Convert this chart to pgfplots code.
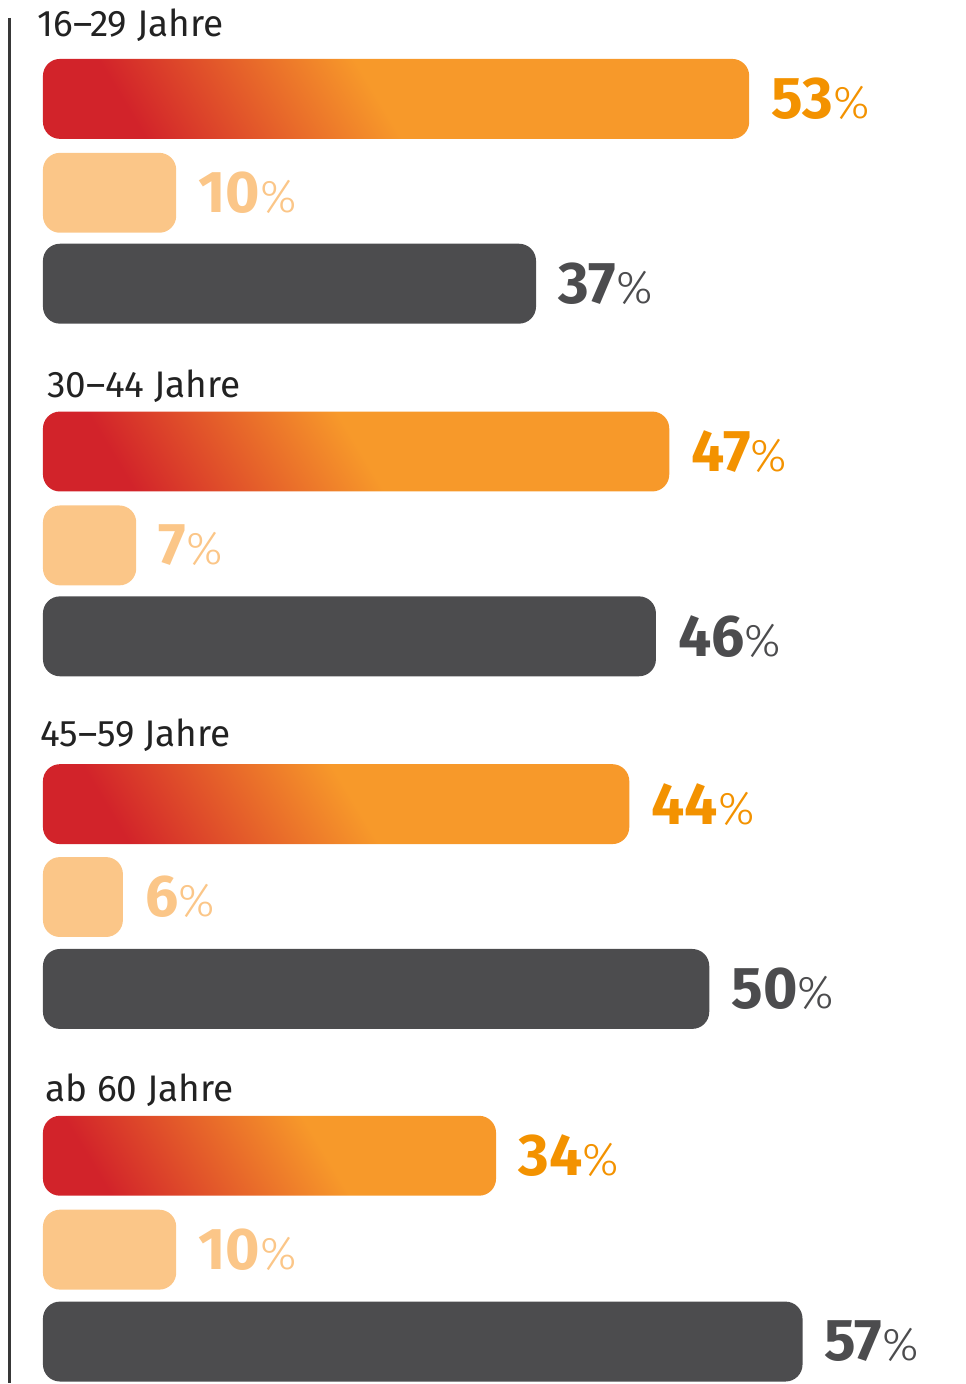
\documentclass[border=0pt]{standalone}
\usepackage{fontspec}
\setmainfont{Fira Sans}
\newfontfamily\lightfont{Fira Sans Light}
\usepackage{pgfplots}
\pgfplotsset{compat=1.18}
\definecolor{myred}{HTML}{D2232A}
\definecolor{myorange}{HTML}{F7992A}
\definecolor{numorange}{HTML}{F39200}
\definecolor{lightbar}{HTML}{FBC688}
\definecolor{darkbar}{HTML}{4C4C4E}
\definecolor{titlecol}{HTML}{222222}
\pgfdeclarehorizontalshading{gA}{100bp}{color(0bp)=(myred); color(25bp)=(myred); color(48.4bp)=(myorange); color(100bp)=(myorange)}
\pgfdeclarehorizontalshading{gB}{100bp}{color(0bp)=(myred); color(25bp)=(myred); color(50.5bp)=(myorange); color(100bp)=(myorange)}
\pgfdeclarehorizontalshading{gC}{100bp}{color(0bp)=(myred); color(25bp)=(myred); color(52.1bp)=(myorange); color(100bp)=(myorange)}
\pgfdeclarehorizontalshading{gD}{100bp}{color(0bp)=(myred); color(25bp)=(myred); color(57.8bp)=(myorange); color(100bp)=(myorange)}
\newcommand{\lab}[1]{{\fontsize{29.5}{30}\selectfont\bfseries #1}{\fontsize{23}{24}\selectfont\lightfont\%}}
\begin{document}
\begin{tikzpicture}
\begin{axis}[
  scale only axis, width=483.5pt, height=692pt,
  hide axis, clip=false,
  xmin=-3.2234, xmax=69.265, ymin=0, ymax=1384, y dir=reverse,
  xbar, bar width=40pt, bar shift=0pt,
  point meta=explicit symbolic,
  nodes near coords={\lab{\pgfplotspointmeta}},
  every node near coord/.append style={anchor=west, inner sep=0pt, xshift=11pt},
  grad/.style={draw=none, shade, shading=#1, rounded corners=8.5pt,
    every node near coord/.append style={text=numorange}},
]
\path (rel axis cs:0,0) rectangle (rel axis cs:1,1);
% Gradient series (one bar per plot so each gets its own gradient)
\addplot[grad=gA, shading angle=31] coordinates {(53,99) [53]};
\addplot[grad=gB, shading angle=31] coordinates {(47,452) [47]};
\addplot[grad=gC, shading angle=31] coordinates {(44,805) [44]};
\addplot[grad=gD, shading angle=31] coordinates {(34,1157) [34]};
\addplot[draw=none, fill=lightbar, rounded corners=8.5pt,
  every node near coord/.append style={text=lightbar}]
  coordinates {(10,193) [10] (7,546) [7] (6,898) [6] (10,1251) [10]};
\addplot[draw=none, fill=darkbar, rounded corners=8.5pt,
  every node near coord/.append style={text=darkbar}]
  coordinates {(37,284) [37] (46,637) [46] (50,990) [50] (57,1343) [57]};
\draw[titlecol!90, line width=1.5pt] (axis cs:-2.474,18) -- (axis cs:-2.474,1384);
\begin{scope}[every node/.style={anchor=base west, inner sep=0pt, text=titlecol, font=\fontsize{18.5}{21}\selectfont}]
\node at (axis cs:-0.45,37) {16–29 Jahre};
\node at (axis cs:0.3,398) {30–44 Jahre};
\node at (axis cs:-0.22,747) {45–59 Jahre};
\node at (axis cs:0.15,1103) {ab 60 Jahre};
\end{scope}
\end{axis}
\end{tikzpicture}
\end{document}
